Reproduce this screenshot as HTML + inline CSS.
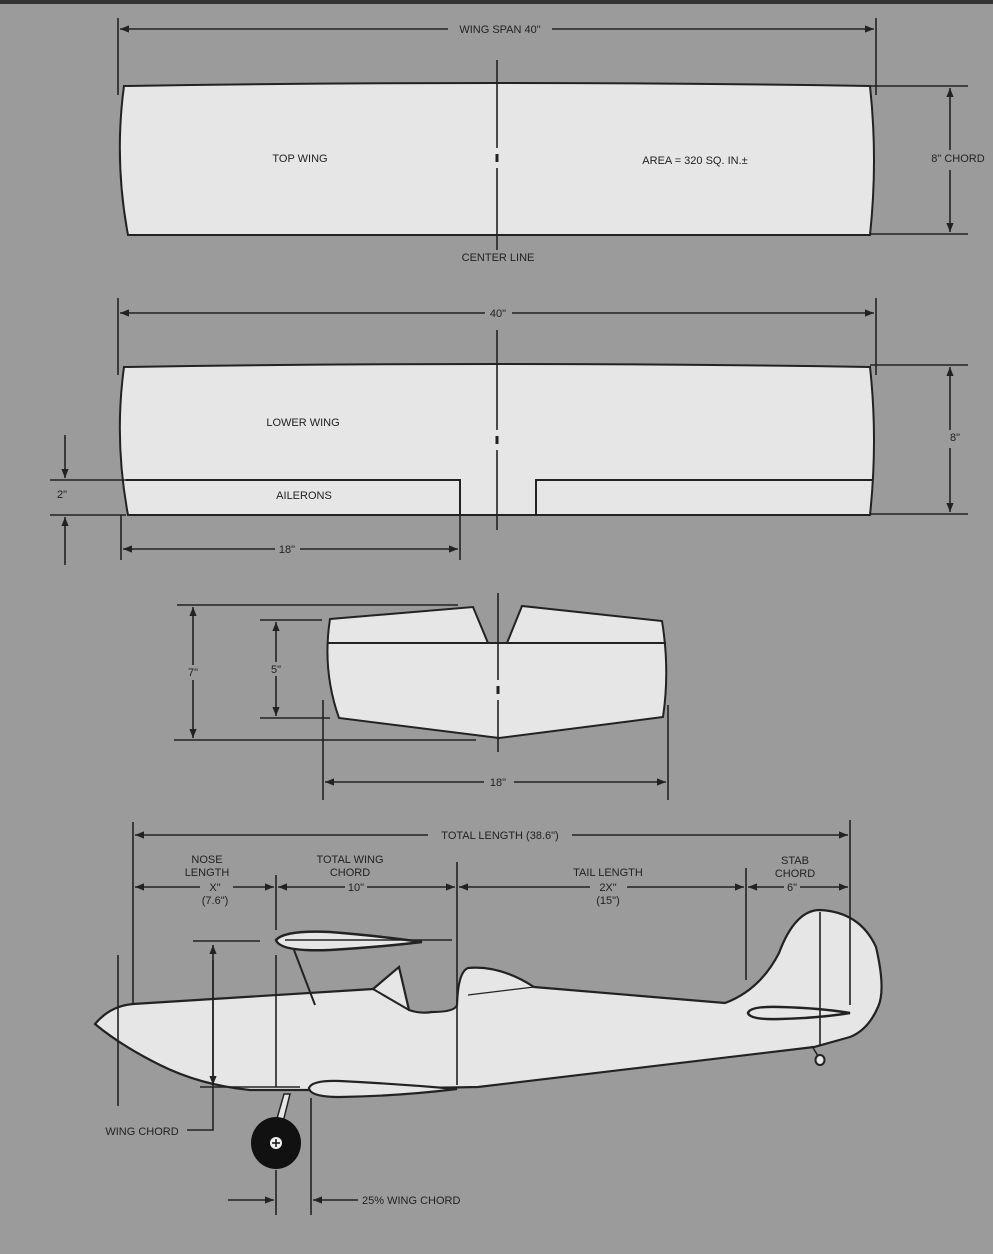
<!DOCTYPE html>
<html><head><meta charset="utf-8"><style>
html,body{margin:0;padding:0;background:#9a9a9a;}
svg{display:block}
text{font-family:"Liberation Sans",sans-serif;font-size:11px;fill:#222;}
</style></head><body>
<svg width="993" height="1254" viewBox="0 0 993 1254" xmlns="http://www.w3.org/2000/svg">
<defs>
<marker id="a" viewBox="0 0 10 10" refX="10" refY="5" markerWidth="9" markerHeight="9" orient="auto-start-reverse" markerUnits="userSpaceOnUse"><path d="M0,1 L10,5 L0,9 z" fill="#222"/></marker>
</defs>
<rect width="993" height="1254" fill="#9b9b9b"/>
<rect width="993" height="4" fill="#333"/>
<g stroke="#222" stroke-width="1.6" fill="none">
<!-- TOP WING -->
<line x1="118" y1="18" x2="118" y2="95"/><line x1="876" y1="18" x2="876" y2="95"/>
<line x1="120" y1="29" x2="448" y2="29" marker-start="url(#a)"/>
<line x1="552" y1="29" x2="874" y2="29" marker-end="url(#a)"/>
<path d="M124,86 Q497,80 870,86 Q878,160 870,235 L128,235 Q114,160 124,86 Z" fill="#e6e6e6" stroke-width="2"/>
<line x1="497" y1="60" x2="497" y2="148"/><line x1="497" y1="154" x2="497" y2="162" stroke-width="3"/><line x1="497" y1="168" x2="497" y2="250"/>
<line x1="870" y1="86" x2="968" y2="86"/><line x1="870" y1="234" x2="968" y2="234"/>
<line x1="950" y1="150" x2="950" y2="88" marker-end="url(#a)"/>
<line x1="950" y1="170" x2="950" y2="232" marker-end="url(#a)"/>
<!-- LOWER WING -->
<line x1="118" y1="298" x2="118" y2="375"/><line x1="876" y1="298" x2="876" y2="375"/>
<line x1="120" y1="313" x2="485" y2="313" marker-start="url(#a)"/>
<line x1="512" y1="313" x2="874" y2="313" marker-end="url(#a)"/>
<path d="M124,367 Q497,361 870,367 Q878,440 870,515 L128,515 Q114,440 124,367 Z" fill="#e6e6e6" stroke-width="2"/>
<path d="M126,480 L460,480 L460,515 M536,515 L536,480 L873,480" stroke-width="2"/>
<line x1="497" y1="330" x2="497" y2="430"/><line x1="497" y1="436" x2="497" y2="444" stroke-width="3"/><line x1="497" y1="450" x2="497" y2="530"/>
<line x1="870" y1="365" x2="968" y2="365"/><line x1="870" y1="514" x2="968" y2="514"/>
<line x1="950" y1="430" x2="950" y2="367" marker-end="url(#a)"/>
<line x1="950" y1="448" x2="950" y2="512" marker-end="url(#a)"/>
<line x1="50" y1="480" x2="126" y2="480"/><line x1="50" y1="515" x2="126" y2="515"/>
<line x1="65" y1="435" x2="65" y2="478" marker-end="url(#a)"/>
<line x1="65" y1="565" x2="65" y2="517" marker-end="url(#a)"/>
<line x1="121" y1="515" x2="121" y2="560"/><line x1="460" y1="515" x2="460" y2="560"/>
<line x1="123" y1="549" x2="275" y2="549" marker-start="url(#a)"/>
<line x1="300" y1="549" x2="458" y2="549" marker-end="url(#a)"/>
<!-- STAB -->
<path d="M330,619 L473,607 L488,643 L507,643 L522,606 L662,621 Q670,670 663,717 L499,738 L339,718 Q322,670 330,619 Z" fill="#e6e6e6" stroke-width="2"/>
<line x1="327" y1="643" x2="666" y2="643" stroke-width="2"/>
<line x1="498" y1="593" x2="498" y2="680"/><line x1="498" y1="686" x2="498" y2="694" stroke-width="3"/><line x1="498" y1="700" x2="498" y2="752"/>
<line x1="177" y1="605" x2="458" y2="605"/><line x1="174" y1="740" x2="476" y2="740"/>
<line x1="260" y1="620" x2="322" y2="620"/><line x1="260" y1="718" x2="330" y2="718"/>
<line x1="193" y1="665" x2="193" y2="607" marker-end="url(#a)"/>
<line x1="193" y1="680" x2="193" y2="738" marker-end="url(#a)"/>
<line x1="276" y1="662" x2="276" y2="622" marker-end="url(#a)"/>
<line x1="276" y1="676" x2="276" y2="716" marker-end="url(#a)"/>
<line x1="323" y1="700" x2="323" y2="800"/><line x1="668" y1="705" x2="668" y2="800"/>
<line x1="325" y1="782" x2="484" y2="782" marker-start="url(#a)"/>
<line x1="514" y1="782" x2="666" y2="782" marker-end="url(#a)"/>
<!-- AIRPLANE -->
<path d="M95,1024 Q110,1006 133,1004 L373,989 L399,967 L409,1010 Q420,1014 432,1012 Q455,1012 457,1005 Q458,972 468,968 Q500,965 534,987 L725,1003 Q760,990 779,953 Q795,910 820,910 Q860,912 876,947 Q886,990 878,1007 Q868,1030 850,1037 L814,1047 L478,1087 L309,1090 L250,1090 Q200,1085 160,1065 Q120,1045 95,1024 Z" fill="#e6e6e6" stroke-width="2.2"/>
<path d="M373,989 L409,1010" stroke-width="2"/>
<path d="M534,987 L468,995" stroke-width="1.2"/>
<path d="M276,940 Q285,930 330,932 Q380,936 422,942 Q380,947 330,950 Q280,952 276,940 Z" fill="#e6e6e6" stroke-width="2.5"/>
<path d="M294,950 L315,1005" stroke-width="2"/>
<path d="M309,1088 Q312,1080 340,1081 Q400,1084 457,1089 Q400,1096 340,1097 Q310,1097 309,1088 Z" fill="#e6e6e6" stroke-width="2.2"/>
<path d="M748,1013 Q750,1006 780,1007 Q820,1008 850,1013 Q820,1018 780,1019 Q750,1020 748,1013 Z" fill="#e6e6e6" stroke-width="2.5"/>
<path d="M284,1094 L290,1094 L283,1122 L276,1122 Z" fill="#e6e6e6" stroke-width="1.5"/>
<ellipse cx="276" cy="1143" rx="25" ry="26" fill="#111" stroke="none"/>
<circle cx="276" cy="1143" r="6" fill="#eee" stroke="none"/>
<path d="M276,1139 V1147 M272,1143 H280" stroke="#111" stroke-width="1.5"/>
<path d="M812,1046 L818,1056" stroke-width="1.5"/>
<ellipse cx="820" cy="1060" rx="4.5" ry="5" fill="#e6e6e6" stroke-width="2"/>
<!-- dims -->
<line x1="133" y1="822" x2="133" y2="1005"/><line x1="850" y1="820" x2="850" y2="1005"/>
<line x1="135" y1="835" x2="428" y2="835" marker-start="url(#a)"/>
<line x1="572" y1="835" x2="848" y2="835" marker-end="url(#a)"/>
<line x1="276" y1="875" x2="276" y2="930"/><line x1="276" y1="955" x2="276" y2="1087"/><line x1="276" y1="1170" x2="276" y2="1215"/>
<line x1="457" y1="862" x2="457" y2="1085"/>
<line x1="746" y1="868" x2="746" y2="980"/>
<line x1="820" y1="912" x2="820" y2="1045"/>
<line x1="135" y1="887" x2="200" y2="887" marker-start="url(#a)"/>
<line x1="233" y1="887" x2="274" y2="887" marker-end="url(#a)"/>
<line x1="278" y1="887" x2="345" y2="887" marker-start="url(#a)"/>
<line x1="367" y1="887" x2="455" y2="887" marker-end="url(#a)"/>
<line x1="459" y1="887" x2="590" y2="887" marker-start="url(#a)"/>
<line x1="627" y1="887" x2="744" y2="887" marker-end="url(#a)"/>
<line x1="748" y1="887" x2="784" y2="887" marker-start="url(#a)"/>
<line x1="800" y1="887" x2="848" y2="887" marker-end="url(#a)"/>
<line x1="118" y1="955" x2="118" y2="1106"/>
<line x1="193" y1="941" x2="260" y2="941"/><line x1="285" y1="940" x2="452" y2="940"/>
<line x1="200" y1="1087" x2="300" y2="1087"/>
<line x1="213" y1="1080" x2="213" y2="945" marker-end="url(#a)"/>
<line x1="213" y1="960" x2="213" y2="1085" marker-end="url(#a)"/>
<path d="M187,1130 L213,1130 L213,1080"/>
<line x1="311" y1="1098" x2="311" y2="1215"/>
<line x1="228" y1="1200" x2="274" y2="1200" marker-end="url(#a)"/>
<line x1="358" y1="1200" x2="313" y2="1200" marker-end="url(#a)"/>
</g>
<g>
<text x="500" y="33" text-anchor="middle" font-size="10">WING SPAN 40"</text>
<text x="300" y="162" text-anchor="middle">TOP WING</text>
<text x="695" y="164" text-anchor="middle">AREA = 320 SQ. IN.±</text>
<text x="958" y="162" text-anchor="middle" font-size="10">8" CHORD</text>
<text x="498" y="261" text-anchor="middle">CENTER LINE</text>
<text x="498" y="317" text-anchor="middle" font-size="10">40"</text>
<text x="303" y="426" text-anchor="middle">LOWER WING</text>
<text x="955" y="441" text-anchor="middle" font-size="10">8"</text>
<text x="304" y="499" text-anchor="middle">AILERONS</text>
<text x="62" y="498" text-anchor="middle" font-size="10">2"</text>
<text x="287" y="553" text-anchor="middle" font-size="10">18"</text>
<text x="193" y="676" text-anchor="middle" font-size="10">7"</text>
<text x="276" y="673" text-anchor="middle" font-size="10">5"</text>
<text x="498" y="786" text-anchor="middle" font-size="10">18"</text>
<text x="500" y="839" text-anchor="middle">TOTAL LENGTH (38.6")</text>
<text x="207" y="863" text-anchor="middle">NOSE</text>
<text x="207" y="876" text-anchor="middle">LENGTH</text>
<text x="215" y="891" text-anchor="middle">X"</text>
<text x="215" y="904" text-anchor="middle">(7.6")</text>
<text x="350" y="863" text-anchor="middle">TOTAL WING</text>
<text x="350" y="876" text-anchor="middle">CHORD</text>
<text x="356" y="891" text-anchor="middle">10"</text>
<text x="608" y="876" text-anchor="middle">TAIL LENGTH</text>
<text x="608" y="891" text-anchor="middle">2X"</text>
<text x="608" y="904" text-anchor="middle">(15")</text>
<text x="795" y="864" text-anchor="middle">STAB</text>
<text x="795" y="877" text-anchor="middle">CHORD</text>
<text x="792" y="891" text-anchor="middle">6"</text>
<text x="142" y="1135" text-anchor="middle">WING CHORD</text>
<text x="362" y="1204">25% WING CHORD</text>
</g>
</svg>
</body></html>
